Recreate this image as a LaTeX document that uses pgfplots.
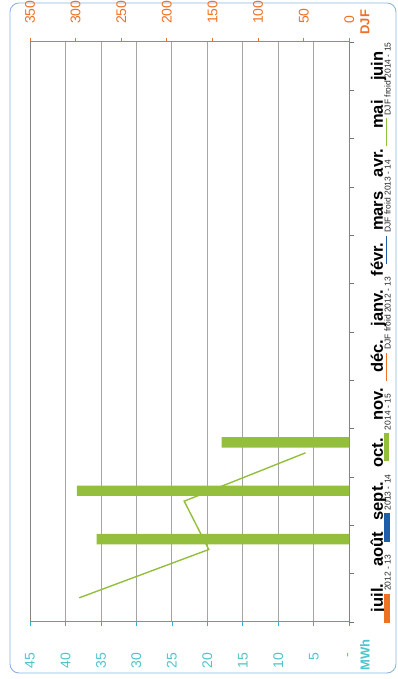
\documentclass[border=0pt]{standalone}
\usepackage{pgfplots}
\pgfplotsset{compat=1.18}
\usepackage{fontspec}
\setmainfont{Liberation Sans}
\definecolor{cgreen}{RGB}{148,191,60}
\definecolor{corange}{RGB}{238,114,38}
\definecolor{cblue}{RGB}{28,94,168}
\definecolor{ccyan}{RGB}{78,196,204}
\definecolor{caxcyan}{RGB}{58,170,210}
\definecolor{cgrid}{RGB}{165,165,165}
\definecolor{cframe}{RGB}{140,180,225}
\pgfplotsset{
 legbar/.style 2 args={legend image code/.code={%
   \fill[#1] (-2.6pt,0pt) rectangle (2.6pt,28pt);
   \node[rotate=90, anchor=west, inner sep=0pt, font=\fontsize{8.5}{8.5}\selectfont, text=black!85] at (1.5pt,31pt) {#2};}},
 legline/.style 2 args={legend image code/.code={%
   \draw[#1, line width=1.3pt] (0pt,0pt) -- (0pt,28pt);
   \node[rotate=90, anchor=west, inner sep=0pt, font=\fontsize{8.5}{8.5}\selectfont, text=black!85] at (1.5pt,31pt) {#2};}},
}
\begin{document}
\begin{tikzpicture}
\useasboundingbox (0,0) rectangle (398pt,679pt);
\draw[cframe, line width=0.9pt, rounded corners=9pt] (10pt,6pt) rectangle (396pt,676pt);
\begin{axis}[
 at={(30pt,57pt)}, anchor=south west,
 scale only axis, width=319.3pt, height=580pt,
 xmin=0, xmax=45, x dir=reverse,
 ymin=-0.5, ymax=11.5,
 axis x line*=bottom, axis y line*=box,
 x axis line style={caxcyan, line width=1pt},
 y axis line style={cgrid!80!black, line width=0.9pt},
 xtick={0,5,...,45},
 xticklabels={-,5,10,15,20,25,30,35,40,45},
 xticklabel style={rotate=90, anchor=east, inner sep=0pt, font=\fontsize{14}{14}\selectfont, text=ccyan},
 xticklabel shift=26pt,
 x tick style={caxcyan, line width=0.8pt},
 xmajorgrids, grid style={cgrid, line width=0.9pt},
 ytick={-0.5,0.5,...,11.5},
 y tick label as interval,
 yticklabels={juil.,août,sept.,oct.,nov.,déc.,janv.,févr.,mars,avr.,mai,juin},
 yticklabel style={rotate=90, anchor=base, inner sep=0pt, font=\fontsize{16.5}{16.5}\selectfont\bfseries},
 yticklabel shift=29pt,
 ytick pos=right, yticklabel pos=right,
 y tick style={cgrid!70!black, line width=0.8pt},
 tick align=outside, major tick length=4.5pt,
 xlabel={MWh},
 xlabel style={at={(axis description cs:1.049,-0.057)}, rotate=90, anchor=center, font=\fontsize{13}{13}\selectfont\bfseries, text=ccyan},
 legend columns=1, reverse legend,
 legend style={at={(1.123,0.499)}, anchor=center, draw=none, fill=none,
   nodes={inner sep=0pt}, row sep=12.5pt, column sep=0pt},
]
\addlegendimage{legbar={corange}{2012 - 13}}
\addlegendentry{}
\addlegendimage{legbar={cblue}{2013 - 14}}
\addlegendentry{}
\addplot[xbar, fill=cgreen, draw=none, bar width=10.4pt, bar shift=10.4pt, legbar={cgreen}{2014 - 15}]
  coordinates {(35.6,1) (38.4,2) (18,3)};
\addlegendentry{}
\addlegendimage{legline={corange}{DJF froid 2012 - 13}}
\addlegendentry{}
\addlegendimage{legline={cblue}{DJF froid 2013 - 14}}
\addlegendentry{}
\addlegendimage{legline={cgreen}{DJF froid 2014 - 15}}
\addlegendentry{}
\end{axis}
\begin{axis}[
 at={(30pt,57pt)}, anchor=south west,
 scale only axis, width=319.3pt, height=580pt,
 xmin=0, xmax=350, x dir=reverse,
 ymin=-0.5, ymax=11.5,
 axis x line*=top, axis y line=none,
 x axis line style={corange, line width=1pt},
 xtick={0,50,...,350},
 xticklabels={0,50,100,150,200,250,300,350},
 xticklabel style={rotate=90, anchor=west, inner sep=0pt, font=\fontsize{14}{14}\selectfont, text=corange},
 xticklabel shift=14pt,
 x tick style={corange, line width=0.8pt},
 tick align=outside, major tick length=4pt,
 xlabel={DJF},
 xlabel style={at={(axis description cs:1.049,1.034)}, rotate=90, anchor=center, font=\fontsize{13}{13}\selectfont\bfseries, text=corange},
]
\addplot[cgreen, line width=1.4pt] coordinates {(296,0) (154,1) (181,2) (48,3)};
\end{axis}
\end{tikzpicture}
\end{document}
